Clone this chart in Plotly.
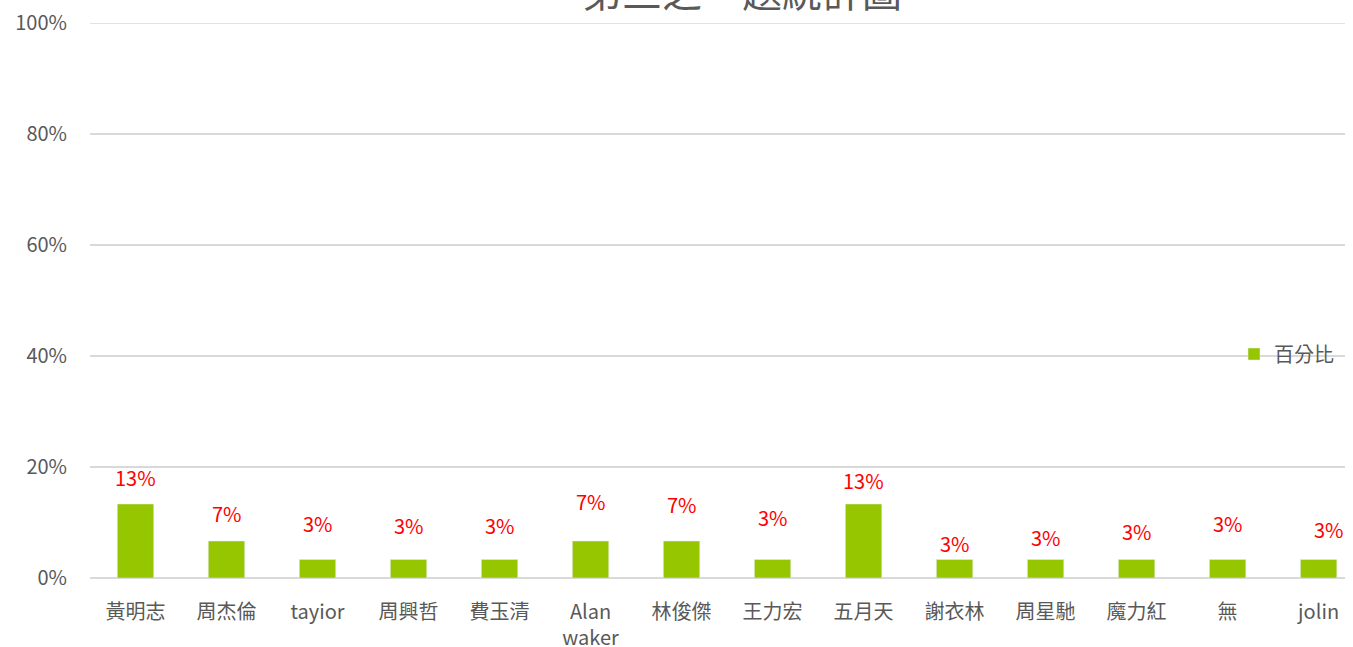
import plotly.graph_objects as go

categories = ["黃明志", "周杰倫", "tayior", "周興哲", "費玉清", "Alan<br>waker", "林俊傑",
              "王力宏", "五月天", "謝衣林", "周星馳", "魔力紅", "無", "jolin"]
values = [4/30, 2/30, 1/30, 1/30, 1/30, 2/30, 2/30, 1/30, 4/30, 1/30, 1/30, 1/30, 1/30, 1/30]
label_texts = ["13%", "7%", "3%", "3%", "3%", "7%", "7%", "3%", "13%", "3%", "3%", "3%", "3%", "3%"]
# manual label offsets (pixels) as placed in the original chart
label_yshift = [27, 28, 36, 34, 34, 40, 37, 42, 24, 16, 22, 28, 36, 30]
label_xshift = [0, 0, 0, 0, 0, 0, 0, 0, 0, 0, 0, 0, 0, 10]
series_name = "百分比"
title_text = "第三之一題統計圖"

FONT = "Century Gothic, Noto Sans CJK TC, sans-serif"
GRAY = "#595959"

L, T, PLOT_H, PLOT_W = 90, 23, 555, 1255

fig = go.Figure()
fig.add_trace(go.Bar(
    x=list(range(len(categories))), y=values, name=series_name,
    marker=dict(color="#95c600"), width=0.4, showlegend=True,
))

for i, (v, t) in enumerate(zip(values, label_texts)):
    fig.add_annotation(x=i, y=v, text=t, showarrow=False, xref="x", yref="y",
                       yanchor="middle", yshift=label_yshift[i], xshift=label_xshift[i],
                       font=dict(family=FONT, size=20, color="#ff0000"))

fig.add_annotation(x=(742 - L) / PLOT_W, y=(T + PLOT_H + 10) / PLOT_H, xref="paper", yref="paper",
                   text=title_text, showarrow=False, yanchor="middle", xanchor="center",
                   font=dict(family=FONT, size=40, color=GRAY))

# top gridline at 100%
fig.add_shape(type="line", xref="paper", yref="y", x0=0, x1=1, y0=1, y1=1,
              line=dict(color="#d9d9d9", width=1.5), layer="below")

fig.update_layout(
    width=1353, height=647,
    margin=dict(l=L, r=8, t=T, b=69, autoexpand=False),
    paper_bgcolor="white", plot_bgcolor="white",
    font=dict(family=FONT, color=GRAY, size=20),
    showlegend=True,
    legend=dict(x=(1234 - L) / PLOT_W, y=(578 - 354) / PLOT_H, xanchor="left", yanchor="middle",
                font=dict(size=20, color=GRAY), bgcolor="rgba(0,0,0,0)",
                itemwidth=30, tracegroupgap=0),
    xaxis=dict(tickmode="array", tickvals=list(range(len(categories))), ticktext=categories,
               range=[-0.5, 13.29], showgrid=False, showline=False, zeroline=False,
               ticks="", tickfont=dict(size=20, color=GRAY), fixedrange=True,
               automargin=False, ticklabelstandoff=20),
    yaxis=dict(range=[0, 1], tickvals=[0, 0.2, 0.4, 0.6, 0.8, 1.0], tickformat=".0%",
               showgrid=True, gridcolor="#d9d9d9", gridwidth=1.5, zeroline=True,
               zerolinecolor="#d9d9d9", zerolinewidth=1.5, showline=False, ticks="",
               ticklabelstandoff=22, automargin=False, ticklabeloverflow="allow",
               tickfont=dict(size=20, color=GRAY), fixedrange=True),
    bargap=0.6,
)

fig.write_html("out.html", config={"displayModeBar": False},
               post_script="document.body.style.margin='0';")
